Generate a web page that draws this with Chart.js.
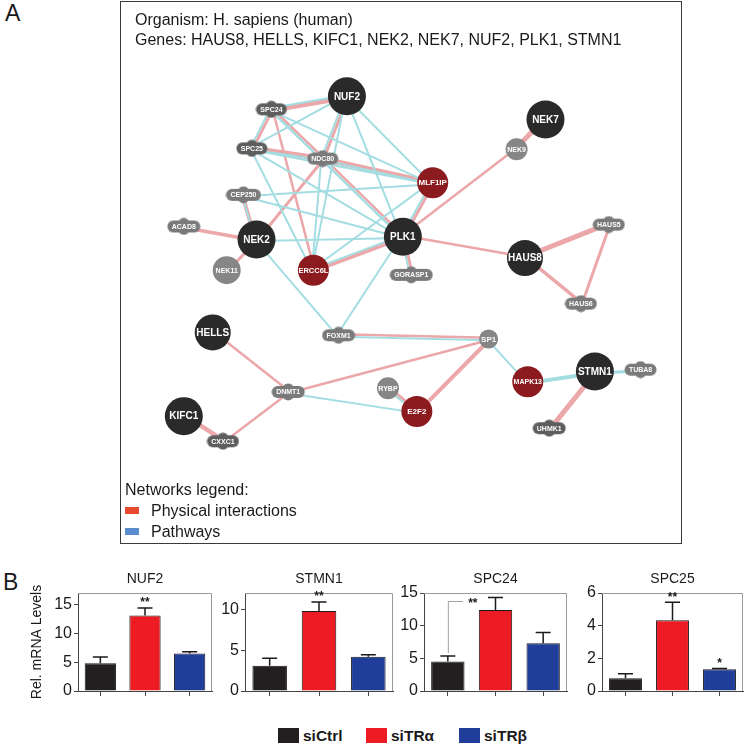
<!DOCTYPE html>
<html>
<head>
<meta charset="utf-8">
<script src="https://cdn.jsdelivr.net/npm/chart.js@4.4.1/dist/chart.umd.min.js"></script>
<style>
  body { margin: 0; background: #fff; font-family: "Liberation Sans", Arial, sans-serif; color: #1a1a1a; }
  #page { position: relative; width: 746px; height: 755px; overflow: hidden; }
  .abs { position: absolute; }
  .letter { font-size: 23px; line-height: 24px; }
  #netBox { left: 120px; top: 1px; width: 560px; height: 541px; border: 1.5px solid #3a3a3a; }
  #netHead { left: 14px; top: 8px; font-size: 16px; line-height: 20px; white-space: nowrap; }
  #netLegend { left: 4px; top: 477px; font-size: 16px; line-height: 21px; white-space: nowrap; }
  .sw { display: inline-block; width: 14px; height: 7px; margin-right: 12px; vertical-align: 2px; }
  .leg { top: 727px; font: bold 15.5px "Liberation Sans Narrow", "Liberation Sans", Arial, sans-serif; white-space: nowrap; line-height: 18px; }
  .leg i { display: inline-block; width: 21px; height: 15px; vertical-align: -2px; margin-right: 4px; }
</style>
</head>
<body>
<div id="page">
  <div class="abs letter" style="left:5px;top:1px">A</div>
  <div id="netBox" class="abs">
    <canvas id="net" width="560" height="541" class="abs" style="left:0;top:0"></canvas>
    <div id="netHead" class="abs">Organism: H. sapiens (human)<br>Genes: HAUS8, HELLS, KIFC1, NEK2, NEK7, NUF2, PLK1, STMN1</div>
    <div id="netLegend" class="abs">Networks legend:<br><span class="sw" style="background:#e8492e"></span>Physical interactions<br><span class="sw" style="background:#5b8ccf"></span>Pathways</div>
  </div>

  <div class="abs letter" style="left:3px;top:570px">B</div>
  <canvas id="c1" width="187" height="142" class="abs" style="left:29px;top:566px"></canvas>
  <canvas id="c2" width="177" height="142" class="abs" style="left:220px;top:566px"></canvas>
  <canvas id="c3" width="172" height="142" class="abs" style="left:399px;top:566px"></canvas>
  <canvas id="c4" width="169" height="142" class="abs" style="left:577px;top:566px"></canvas>

  <div class="abs leg" style="left:278px"><i style="background:#231f20"></i>siCtrl</div>
  <div class="abs leg" style="left:366px"><i style="background:#ed1c24"></i>siTRα</div>
  <div class="abs leg" style="left:459px"><i style="background:#1f3d99"></i>siTRβ</div>
</div>

<script>
// ---------- network (panel A) ----------
var nodeNames = ['NUF2','SPC24','NEK7','SPC25','NDC80','NEK9','MLF1IP','CEP250','ACAD8','NEK2','PLK1','HAUS5','HAUS8','NEK11','ERCC6L','GORASP1','HAUS6','HELLS','FOXM1','SP1','STMN1','TUBA8','MAPK13','RYBP','DNMT1','E2F2','KIFC1','UHMK1','CXXC1'];
var nodeX = [222,141,435,120,196,404,314,111,47,125,282,503,413,93,186,291,473,78,213,374,488,537,416,266,159,297,47,439,89];
var nodeY = [81,95,106,137,148,138,174,187,221,235,232,219,255,268,268,273,304,335,338,342,377,375,388,395,399,420,425,438,452];
// q = query gene, r = highlighted, c = small circle, p = pill
var nodeKind = ['q','p','q','p','p','c','r','p','p','q','q','p','q','c','r','p','p','q','p','c','q','p','r','c','p','r','q','p','p'];

// [from, to, weight]
var physicalEdges = [
  ['NUF2','SPC24',4.5], ['NUF2','NDC80',3], ['SPC24','SPC25',3], ['SPC24','NDC80',2.5], ['SPC24','ERCC6L',2.5],
  ['SPC25','NDC80',3], ['SPC25','MLF1IP',3], ['NDC80','MLF1IP',2.5], ['NDC80','NEK2',3], ['NDC80','PLK1',2.5],
  ['MLF1IP','PLK1',3], ['PLK1','ERCC6L',3.5], ['PLK1','NEK9',2.5], ['NEK9','NEK7',5], ['PLK1','HAUS8',2.5],
  ['PLK1','GORASP1',3], ['NEK2','CEP250',4], ['NEK2','ACAD8',3.5], ['NEK2','NEK11',3], ['HAUS8','HAUS5',5],
  ['HAUS8','HAUS6',3.5], ['HAUS5','HAUS6',3], ['FOXM1','SP1',2.5], ['SP1','DNMT1',2.5], ['SP1','E2F2',4],
  ['HELLS','DNMT1',2.5], ['DNMT1','CXXC1',2.5], ['KIFC1','CXXC1',4.5], ['RYBP','E2F2',3], ['STMN1','UHMK1',5]
];
var pathwayEdges = [
  ['NUF2','SPC24',2], ['NUF2','SPC25',2], ['NUF2','MLF1IP',2], ['NUF2','PLK1',2], ['NUF2','ERCC6L',2], ['NUF2','NDC80',2],
  ['SPC24','SPC25',2], ['SPC24','MLF1IP',2], ['SPC24','PLK1',2], ['SPC24','NDC80',2],
  ['SPC25','MLF1IP',2], ['SPC25','PLK1',2], ['SPC25','ERCC6L',2], ['SPC25','NDC80',2],
  ['NDC80','MLF1IP',2], ['NDC80','ERCC6L',2], ['NDC80','PLK1',2],
  ['CEP250','PLK1',2], ['CEP250','NEK2',2], ['CEP250','MLF1IP',2],
  ['NEK2','PLK1',2], ['NEK2','FOXM1',2], ['MLF1IP','PLK1',2], ['MLF1IP','ERCC6L',2],
  ['PLK1','ERCC6L',2], ['PLK1','GORASP1',2], ['PLK1','FOXM1',2],
  ['FOXM1','SP1',2], ['SP1','MAPK13',2], ['MAPK13','STMN1',4], ['STMN1','TUBA8',3],
  ['DNMT1','E2F2',2], ['RYBP','E2F2',2]
];

var FONT = '"Liberation Sans", Arial, sans-serif';
var kindStyle = {
  q: { r: 19, fill: '#2a2a2a', font: 'bold 10px ' + FONT },
  r: { r: 15.5, fill: '#8c1b1f', font: 'bold 8px ' + FONT },
  c: { r: 11, fill: '#868686', font: 'bold 7px ' + FONT },
  p: { r: 8, fill: '#717171', font: 'bold 7px ' + FONT }
};
var radiusOverride = { HELLS: 18, HAUS8: 18, NEK11: 14, SP1: 9.5 };
var pillDark = { SPC24: 1, SPC25: 1, UHMK1: 1, CXXC1: 1 };
var fontOverride = { MAPK13: 'bold 7px ' + FONT, ERCC6L: 'bold 7.5px ' + FONT, SP1: 'bold 8px ' + FONT };

function pillImage(label, fill) {
  var c = document.createElement('canvas');
  var m = c.getContext('2d');
  m.font = kindStyle.p.font;
  var w = Math.ceil(m.measureText(label).width + 9), h = 18;
  c.width = w; c.height = h;
  m.fillStyle = fill;
  m.beginPath();
  m.roundRect(0.5, 3, w - 1, 12, 6);
  m.fill();
  m.beginPath();
  m.ellipse(w / 2, 9, Math.min(7, w / 3), 8.5, 0, 0, Math.PI * 2);
  m.fill();
  return c;
}

function nodeIndex(name) { return nodeNames.indexOf(name); }
function pointOf(name) { var i = nodeIndex(name); return { x: nodeX[i], y: nodeY[i] }; }

var edgeSets = [];
function addEdges(list, color, shift) {
  list.forEach(function (e) {
    var a = pointOf(e[0]), b = pointOf(e[1]);
    var dx = b.x - a.x, dy = b.y - a.y, len = Math.sqrt(dx * dx + dy * dy) || 1;
    var ox = -dy / len * shift, oy = dx / len * shift;
    edgeSets.push({
      data: [{ x: a.x + ox, y: a.y + oy }, { x: b.x + ox, y: b.y + oy }],
      showLine: true, borderColor: color, borderWidth: e[2],
      pointRadius: 0, order: 2, borderCapStyle: 'round'
    });
  });
}
addEdges(pathwayEdges, '#a3dde2', 1.5);
addEdges(physicalEdges, '#eba7a9', -1.2);

var nodeStyles = nodeNames.map(function (n, i) {
  if (nodeKind[i] === 'p') return pillImage(n, pillDark[n] ? '#5e5e5e' : '#7a7a7a');
  return 'circle';
});

var nodeLabels = {
  id: 'nodeLabels',
  afterDatasetsDraw: function (chart) {
    var meta = chart.getDatasetMeta(0), ctx = chart.ctx;
    ctx.save();
    ctx.textAlign = 'center';
    ctx.textBaseline = 'middle';
    ctx.fillStyle = '#ffffff';
    meta.data.forEach(function (pt, i) {
      ctx.font = fontOverride[nodeNames[i]] || kindStyle[nodeKind[i]].font;
      ctx.fillText(nodeNames[i], pt.x, pt.y + 0.5);
    });
    ctx.restore();
  }
};

new Chart(document.getElementById('net'), {
  type: 'scatter',
  data: {
    datasets: [{
      data: nodeNames.map(function (n, i) { return { x: nodeX[i], y: nodeY[i] }; }),
      pointStyle: nodeStyles,
      pointRadius: nodeNames.map(function (n, i) { return radiusOverride[n] || kindStyle[nodeKind[i]].r; }),
      backgroundColor: nodeKind.map(function (k) { return kindStyle[k].fill; }),
      borderWidth: 0,
      order: 0
    }].concat(edgeSets)
  },
  options: {
    responsive: false,
    animation: false,
    events: [],
    layout: { padding: 0 },
    plugins: { legend: { display: false }, tooltip: { enabled: false } },
    scales: {
      x: { type: 'linear', min: 0, max: 560, display: false },
      y: { type: 'linear', min: 0, max: 541, reverse: true, display: false }
    }
  },
  plugins: [nodeLabels]
});

// ---------- bar charts (panel B) ----------
var groups = ['siCtrl', 'siTRα', 'siTRβ'];
var barColors = ['#231f20', '#ed1c24', '#1f3d99'];

var nuf2Mean = [4.8, 13.1, 6.5];
var nuf2Err = [1.1, 1.3, 0.3];
var nuf2Sig = ['', '**', ''];

var stmn1Mean = [3.1, 9.8, 4.2];
var stmn1Err = [0.9, 1.1, 0.25];
var stmn1Sig = ['', '**', ''];

var spc24Mean = [4.5, 12.4, 7.3];
var spc24Err = [0.85, 1.9, 1.65];
var spc24Sig = ['', '', ''];

var spc25Mean = [0.78, 4.33, 1.33];
var spc25Err = [0.27, 1.1, 0.05];
var spc25Sig = ['', '**', '*'];

var TICKFONT = '"Liberation Sans Narrow", "Liberation Sans", Arial, sans-serif';

var barExtras = {
  id: 'barExtras',
  beforeDatasetsDraw: function (chart) {
    var a = chart.chartArea, ctx = chart.ctx;
    ctx.save();
    ctx.strokeStyle = '#9a9a9a';
    ctx.lineWidth = 1;
    ctx.beginPath();
    ctx.moveTo(a.left, a.top + 0.5);
    ctx.lineTo(a.right - 0.5, a.top + 0.5);
    ctx.lineTo(a.right - 0.5, a.bottom);
    ctx.stroke();
    ctx.restore();
  },
  afterDatasetsDraw: function (chart, args, opts) {
    var ctx = chart.ctx, a = chart.chartArea, ys = chart.scales.y;
    var meta = chart.getDatasetMeta(0), vals = chart.data.datasets[0].data;
    ctx.save();
    ctx.fillStyle = '#1a1a1a';
    ctx.font = '14px ' + FONT;
    ctx.textAlign = 'center';
    ctx.textBaseline = 'middle';
    ctx.fillText(opts.title, (a.left + a.right) / 2, a.top - 14);

    ctx.strokeStyle = '#1a1a1a';
    ctx.lineWidth = 1.5;
    meta.data.forEach(function (bar, i) {
      var y0 = ys.getPixelForValue(vals[i]);
      var y1 = ys.getPixelForValue(vals[i] + opts.errors[i]);
      ctx.beginPath();
      ctx.moveTo(bar.x, y0);
      ctx.lineTo(bar.x, y1);
      ctx.moveTo(bar.x - 7.5, y1);
      ctx.lineTo(bar.x + 7.5, y1);
      ctx.stroke();
      if (opts.stars[i]) {
        ctx.font = 'bold 12px ' + FONT;
        ctx.fillText(opts.stars[i], bar.x, y1 - 5);
      }
    });

    if (opts.bracket) {
      var b = opts.bracket;
      var bar0 = meta.data[b.from];
      var yStart = ys.getPixelForValue(vals[b.from] + opts.errors[b.from]) - 3;
      var yTop = ys.getPixelForValue(b.level);
      ctx.strokeStyle = '#a0a0a0';
      ctx.lineWidth = 1;
      ctx.beginPath();
      ctx.moveTo(bar0.x + 0.5, yStart);
      ctx.lineTo(bar0.x + 0.5, yTop);
      ctx.lineTo(bar0.x + 15, yTop);
      ctx.stroke();
      ctx.font = 'bold 12px ' + FONT;
      ctx.fillText(b.text, bar0.x + 25, yTop + 2);
    }
    ctx.restore();
  }
};

function makeBars(id, title, mean, err, sig, yMax, step, yWidth, yTitle, bracket) {
  return new Chart(document.getElementById(id), {
    type: 'bar',
    data: {
      labels: groups,
      datasets: [{
        data: mean,
        backgroundColor: barColors,
        borderColor: '#1a1a1a',
        borderWidth: 1,
        categoryPercentage: 1,
        barPercentage: 0.7
      }]
    },
    options: {
      responsive: false,
      animation: false,
      events: [],
      layout: { padding: { top: 27, right: id === 'c4' ? 3 : 4, left: 0, bottom: 0 } },
      plugins: {
        legend: { display: false },
        tooltip: { enabled: false },
        barExtras: { title: title, errors: err, stars: sig, bracket: bracket }
      },
      scales: {
        x: {
          ticks: { display: false },
          grid: { offset: false, drawOnChartArea: false, drawTicks: true, tickLength: 5, color: '#444' },
          border: { color: '#444', width: 1 },
          afterFit: function (s) { s.height = 17; }
        },
        y: {
          min: 0, max: yMax,
          ticks: { stepSize: step, padding: 2, color: '#1a1a1a', font: { family: TICKFONT, size: 16 } },
          grid: { drawOnChartArea: false, tickLength: 4, color: '#444' },
          border: { color: '#444', width: 1 },
          title: { display: !!yTitle, text: yTitle || '', color: '#1a1a1a', padding: 0, font: { family: FONT, size: 14 } },
          afterBuildTicks: function (s) {
            var list = [];
            for (var v = 0; v <= yMax + 1e-9; v += step) list.push({ value: v });
            s.ticks = list;
          },
          afterFit: function (s) { s.width = yWidth; }
        }
      }
    },
    plugins: [barExtras]
  });
}

makeBars('c1', 'NUF2', nuf2Mean, nuf2Err, nuf2Sig, 17, 5, 49, 'Rel. mRNA Levels');
makeBars('c2', 'STMN1', stmn1Mean, stmn1Err, stmn1Sig, 12, 5, 25);
makeBars('c3', 'SPC24', spc24Mean, spc24Err, spc24Sig, 15, 5, 25, null, { from: 0, level: 13.7, text: '**' });
makeBars('c4', 'SPC25', spc25Mean, spc25Err, spc25Sig, 6, 2, 25);
</script>
</body>
</html>
